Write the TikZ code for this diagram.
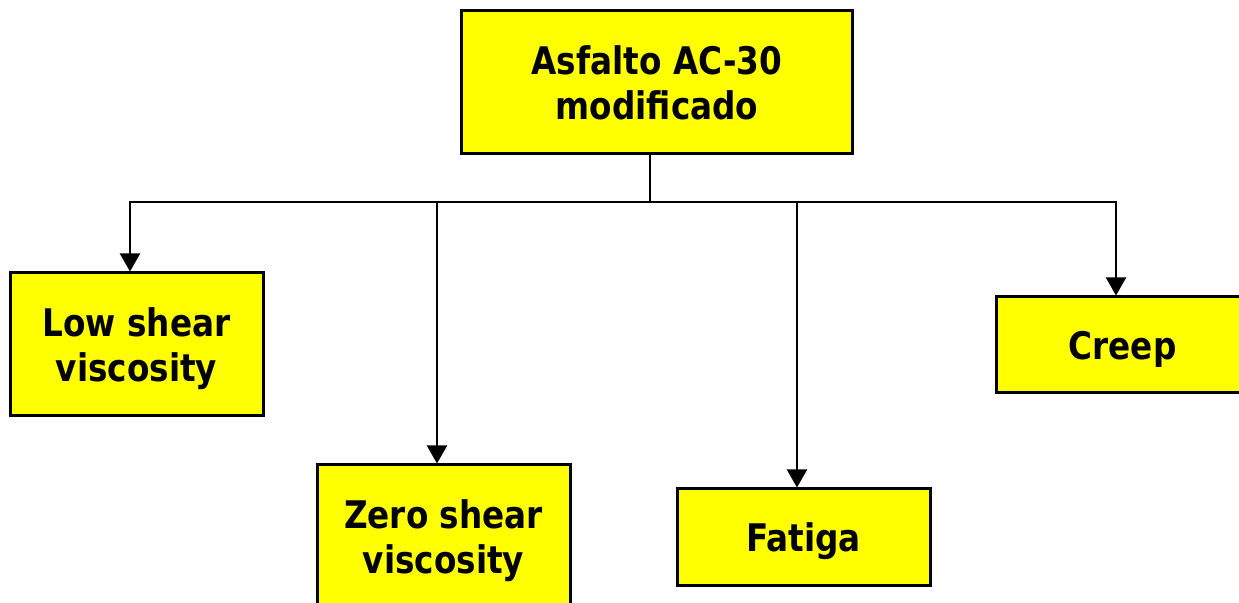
\documentclass[tikz,border=0pt]{standalone}
\usepackage{fontspec}
\setmainfont{DejaVu Sans}[FakeStretch=0.86]
\usetikzlibrary{arrows.meta}
\definecolor{amarillo}{HTML}{FFFF00}

\begin{document}
\begin{tikzpicture}[x=0.5pt,y=-0.5pt,
        caja/.style={draw=black, line width=1.5pt, fill=amarillo, align=center,
            font=\fontsize{19}{22.5}\selectfont\bfseries, inner sep=0pt, text depth=0pt},
        flecha/.style={-{Triangle[width=10pt,length=9pt]}, line width=1pt}]
        % Marco de la figura
        \useasboundingbox (0,0) rectangle (1239,603);

        % Cajas
        \node[caja, minimum width=195.5pt, minimum height=71.5pt] (asfalto) at (657,82.5) {Asfalto AC-30\\modificado};
        \node[caja, minimum width=126.5pt, minimum height=71.5pt] (low) at (136.5,344.5) {Low shear\\viscosity};
        \node[caja, minimum width=126.5pt, minimum height=71.5pt] (zero) at (443.5,536.5) {Zero shear\\viscosity};
        \node[caja, minimum width=126.5pt, minimum height=48.5pt] (fatiga) at (803.5,537.5) {Fatiga};
        \node[caja, minimum width=126.5pt, minimum height=48pt] (creep) at (1122.5,345) {Creep};

        % Tronco y ramas
        \coordinate (rama) at (650,202);
        \draw[line width=1pt] (asfalto.south -| rama) -- (rama);
        \draw[flecha] (rama) -| ([xshift=-3.25pt]low.north);
        \draw[flecha] (rama) -| ([xshift=-3.25pt]creep.north);
        \draw[flecha] ([xshift=-3.25pt]zero.north |- rama) -- ([xshift=-3.25pt]zero.north);
        \draw[flecha] ([xshift=-3.25pt]fatiga.north |- rama) -- ([xshift=-3.25pt]fatiga.north);
    \end{tikzpicture}
\end{document}
